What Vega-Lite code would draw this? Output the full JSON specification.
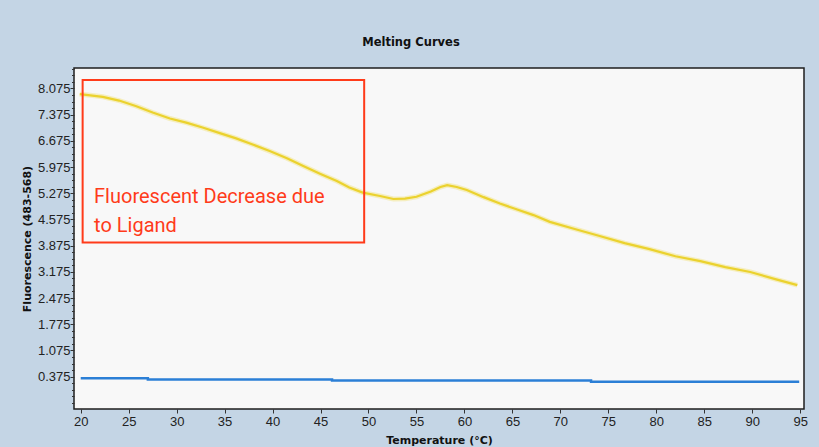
{
  "$schema": "https://vega.github.io/schema/vega-lite/v6.json",
  "width": 730,
  "height": 341,
  "autosize": {"type": "none"},
  "padding": {"left": 74, "top": 68, "right": 15, "bottom": 38},
  "background": "#c4d5e5",
  "config": {
    "view": {"fill": "#f8f8f8", "stroke": "#1e1e1e", "strokeWidth": 1.5},
    "axis": {
      "grid": false,
      "domain": false,
      "tickColor": "#333333",
      "tickSize": 4,
      "labelFont": "Liberation Sans",
      "labelFontSize": 13,
      "labelColor": "#222222",
      "titleFont": "DejaVu Sans",
      "titleFontWeight": "bold",
      "titleFontSize": 11,
      "titleColor": "#111111"
    },
    "axisX": {"labelPadding": 2, "titleY": 34, "titleBaseline": "alphabetic", "tickCount": 40},
    "axisY": {"labelPadding": 0}
  },
  "title": {
    "text": "Melting Curves",
    "font": "DejaVu Sans",
    "fontWeight": "bold",
    "fontSize": 11.5,
    "color": "#111111",
    "anchor": "middle",
    "dx": -28,
    "offset": 14
  },
  "datasets": {
    "yellow": [
      {"T": 19.9, "F": 7.92}, {"T": 21.0, "F": 7.89}, {"T": 22.3, "F": 7.85}, {"T": 24.0, "F": 7.75},
      {"T": 25.8, "F": 7.60}, {"T": 27.5, "F": 7.43}, {"T": 29.3, "F": 7.27}, {"T": 31.0, "F": 7.16},
      {"T": 32.7, "F": 7.03}, {"T": 34.5, "F": 6.88}, {"T": 36.2, "F": 6.74}, {"T": 38.0, "F": 6.57},
      {"T": 39.7, "F": 6.40}, {"T": 41.5, "F": 6.21}, {"T": 43.2, "F": 6.00}, {"T": 45.0, "F": 5.79},
      {"T": 46.7, "F": 5.60}, {"T": 48.0, "F": 5.43}, {"T": 49.4, "F": 5.29}, {"T": 51.2, "F": 5.20},
      {"T": 52.6, "F": 5.12}, {"T": 53.8, "F": 5.13}, {"T": 55.0, "F": 5.18}, {"T": 56.5, "F": 5.32},
      {"T": 57.5, "F": 5.44}, {"T": 58.2, "F": 5.49}, {"T": 59.2, "F": 5.44}, {"T": 60.25, "F": 5.36},
      {"T": 62.0, "F": 5.17}, {"T": 63.7, "F": 5.00}, {"T": 65.5, "F": 4.84}, {"T": 67.2, "F": 4.69},
      {"T": 68.9, "F": 4.51}, {"T": 71.5, "F": 4.32}, {"T": 74.1, "F": 4.13}, {"T": 76.7, "F": 3.94},
      {"T": 79.3, "F": 3.78}, {"T": 82.0, "F": 3.59}, {"T": 84.6, "F": 3.46}, {"T": 87.2, "F": 3.30},
      {"T": 89.8, "F": 3.17}, {"T": 92.4, "F": 2.98}, {"T": 94.7, "F": 2.82}
    ],
    "blue": [
      {"T": 20.0, "F": 0.33}, {"T": 27.0, "F": 0.30}, {"T": 46.2, "F": 0.27},
      {"T": 73.2, "F": 0.235}, {"T": 94.9, "F": 0.235}
    ],
    "box": [
      {"x1": 20.2, "x2": 49.55, "y1": 8.297, "y2": 3.96}
    ],
    "notes": [
      {"x": 21.39, "y": 5.01, "text": "Fluorescent Decrease due"},
      {"x": 21.39, "y": 4.24, "text": "to Ligand"}
    ]
  },
  "layer": [
    {
      "data": {"name": "yellow"},
      "mark": {"type": "line", "color": "#f2e27a", "strokeWidth": 5, "opacity": 0.45},
      "encoding": {
        "x": {"field": "T", "type": "quantitative", "title": "Temperature (°C)",
              "scale": {"domain": [19.3, 95.4], "nice": false, "zero": false},
              "axis": {"values": [20, 25, 30, 35, 40, 45, 50, 55, 60, 65, 70, 75, 80, 85, 90, 95]}},
        "y": {"field": "F", "type": "quantitative", "title": "Fluorescence (483-568)",
              "scale": {"domain": [-0.49, 8.62], "nice": false, "zero": false},
              "axis": {"titleX": -42, "format": ".3f", "labelOverlap": false, "tickCount": 100,
                       "labelExpr": "datum.value > 0.3 && abs((datum.value - 0.375) / 0.7 - round((datum.value - 0.375) / 0.7)) < 0.01 ? format(datum.value, '.3f') : ''",
                       "tickSize": {"condition": {"test": "datum.value > 0.3 && abs((datum.value - 0.375) / 0.7 - round((datum.value - 0.375) / 0.7)) < 0.01", "value": 4}, "value": 2.5},
                       "values": [-0.325, -0.15, 0.025, 0.2, 0.375, 0.55, 0.725, 0.9, 1.075, 1.25, 1.425, 1.6, 1.775, 1.95, 2.125, 2.3, 2.475, 2.65, 2.825, 3.0, 3.175, 3.35, 3.525, 3.7, 3.875, 4.05, 4.225, 4.4, 4.575, 4.75, 4.925, 5.1, 5.275, 5.45, 5.625, 5.8, 5.975, 6.15, 6.325, 6.5, 6.675, 6.85, 7.025, 7.2, 7.375, 7.55, 7.725, 7.9, 8.075, 8.25, 8.425, 8.6]}}
      }
    },
    {
      "data": {"name": "yellow"},
      "mark": {"type": "line", "color": "#ebd22e", "strokeWidth": 2.2},
      "encoding": {
        "x": {"field": "T", "type": "quantitative", "title": "Temperature (°C)"},
        "y": {"field": "F", "type": "quantitative", "title": "Fluorescence (483-568)"}
      }
    },
    {
      "data": {"name": "blue"},
      "mark": {"type": "line", "color": "#2b7fd6", "strokeWidth": 2.5, "interpolate": "step-after"},
      "encoding": {
        "x": {"field": "T", "type": "quantitative", "title": "Temperature (°C)"},
        "y": {"field": "F", "type": "quantitative", "title": "Fluorescence (483-568)"}
      }
    },
    {
      "data": {"name": "box"},
      "mark": {"type": "rect", "fill": "transparent", "stroke": "#ff3b1a", "strokeWidth": 2},
      "encoding": {
        "x": {"field": "x1", "type": "quantitative", "title": "Temperature (°C)"},
        "x2": {"field": "x2"},
        "y": {"field": "y1", "type": "quantitative", "title": "Fluorescence (483-568)"},
        "y2": {"field": "y2"}
      }
    },
    {
      "data": {"name": "notes"},
      "mark": {"type": "text", "align": "left", "baseline": "alphabetic", "font": "Roboto", "fontSize": 20, "color": "#ff3b1a"},
      "encoding": {
        "x": {"field": "x", "type": "quantitative", "title": "Temperature (°C)"},
        "y": {"field": "y", "type": "quantitative", "title": "Fluorescence (483-568)"},
        "text": {"field": "text"}
      }
    }
  ]
}
